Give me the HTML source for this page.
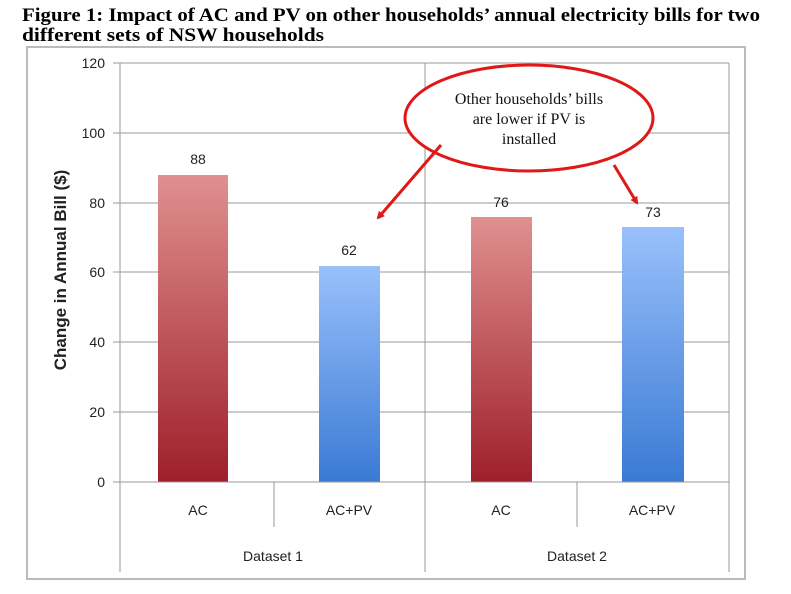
<!DOCTYPE html>
<html><head><meta charset="utf-8"><style>
body{margin:0;background:#fff;width:791px;height:589px;overflow:hidden}
</style></head><body>
<svg width="791" height="589" xmlns="http://www.w3.org/2000/svg" font-family="Liberation Sans, sans-serif">
<defs>
<linearGradient id="r" x1="0" y1="0" x2="0" y2="1"><stop offset="0" stop-color="#e09090"/><stop offset="1" stop-color="#9e1f2a"/></linearGradient>
<linearGradient id="b" x1="0" y1="0" x2="0" y2="1"><stop offset="0" stop-color="#99c0fb"/><stop offset="1" stop-color="#3a7ad4"/></linearGradient>
<marker id="ah" markerWidth="8" markerHeight="8" refX="6" refY="4" orient="auto" markerUnits="userSpaceOnUse"><path d="M0,0 L8,4 L0,8 z" fill="#e01818"/></marker>
</defs>
<text x="22" y="21" font-family="Liberation Serif, serif" font-weight="bold" font-size="19" textLength="738" lengthAdjust="spacingAndGlyphs">Figure 1: Impact of AC and PV on other households’ annual electricity bills for two</text>
<text x="22" y="41" font-family="Liberation Serif, serif" font-weight="bold" font-size="19" textLength="302" lengthAdjust="spacingAndGlyphs">different sets of NSW households</text>
<rect x="27" y="47" width="718" height="532" fill="none" stroke="#bbb" stroke-width="2"/>
<g stroke="#999" stroke-width="1">
<line x1="120" y1="63" x2="729" y2="63"/><line x1="120" y1="133" x2="729" y2="133"/><line x1="120" y1="203" x2="729" y2="203"/><line x1="120" y1="272" x2="729" y2="272"/><line x1="120" y1="342" x2="729" y2="342"/><line x1="120" y1="412" x2="729" y2="412"/>
<line x1="729" y1="63" x2="729" y2="482"/>
<line x1="120" y1="63" x2="120" y2="572"/>
<line x1="425" y1="63" x2="425" y2="572"/>
<line x1="729" y1="482" x2="729" y2="572"/>
<line x1="274" y1="482" x2="274" y2="527"/>
<line x1="577" y1="482" x2="577" y2="527"/>
<line x1="113" y1="63" x2="120" y2="63"/><line x1="113" y1="133" x2="120" y2="133"/><line x1="113" y1="203" x2="120" y2="203"/><line x1="113" y1="272" x2="120" y2="272"/><line x1="113" y1="342" x2="120" y2="342"/><line x1="113" y1="412" x2="120" y2="412"/><line x1="113" y1="482" x2="120" y2="482"/>
</g>
<rect x="158" y="175" width="70" height="307" fill="url(#r)"/>
<rect x="319" y="266" width="61" height="216" fill="url(#b)"/>
<rect x="471" y="217" width="61" height="265" fill="url(#r)"/>
<rect x="622" y="227" width="62" height="255" fill="url(#b)"/>
<line x1="120" y1="482" x2="729" y2="482" stroke="#999"/>
<g font-size="14" fill="#222" text-anchor="end">
<text x="105" y="68">120</text><text x="105" y="138">100</text><text x="105" y="208">80</text><text x="105" y="277">60</text><text x="105" y="347">40</text><text x="105" y="417">20</text><text x="105" y="487">0</text>
</g>
<g font-size="14" fill="#222" text-anchor="middle">
<text x="198" y="164">88</text><text x="349" y="255">62</text><text x="501" y="207">76</text><text x="653" y="217">73</text>
<text x="198" y="515">AC</text><text x="349" y="515">AC+PV</text><text x="501" y="515">AC</text><text x="652" y="515">AC+PV</text>
<text x="273" y="561">Dataset 1</text><text x="577" y="561">Dataset 2</text>
</g>
<text transform="translate(66,270) rotate(-90)" text-anchor="middle" font-size="17" font-weight="bold" fill="#222">Change in Annual Bill ($)</text>
<ellipse cx="529" cy="118" rx="124" ry="53" fill="#fff" stroke="#e01818" stroke-width="3"/>
<g font-family="Liberation Serif, serif" font-size="16" text-anchor="middle" fill="#111">
<text x="529" y="104">Other households’ bills</text><text x="529" y="124">are lower if PV is</text><text x="529" y="144">installed</text>
</g>
<line x1="441" y1="145" x2="378" y2="218" stroke="#e01818" stroke-width="3" marker-end="url(#ah)"/>
<line x1="614" y1="165" x2="637" y2="203" stroke="#e01818" stroke-width="3" marker-end="url(#ah)"/>
</svg>
</body></html>
